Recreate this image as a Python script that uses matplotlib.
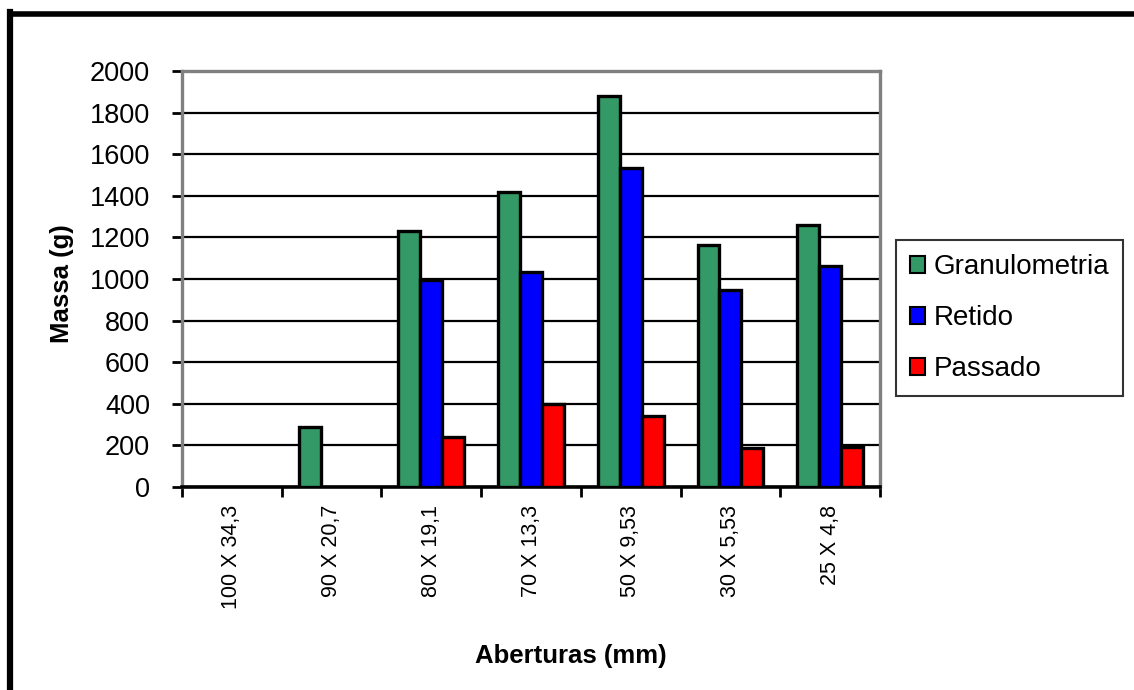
import matplotlib
matplotlib.use("Agg")
import matplotlib.pyplot as plt
import numpy as np
from matplotlib.lines import Line2D
from matplotlib.patches import Patch

plt.rcParams['font.family'] = ['Liberation Sans', 'DejaVu Sans']

categories = ["100 X 34,3", "90 X 20,7", "80 X 19,1", "70 X 13,3",
              "50 X 9,53", "30 X 5,53", "25 X 4,8"]
granulometria = [0, 287, 1229, 1417, 1881, 1163, 1260]
retido = [0, 0, 995, 1034, 1532, 946, 1062]
passado = [0, 0, 239, 398, 341, 186, 194]
series_names = ["Granulometria", "Retido", "Passado"]
series_colors = ["#339966", "#0000FF", "#FF0000"]
y_ticks = list(range(0, 2001, 200))

W, H = 1134, 690
fig = plt.figure(figsize=(W / 100, H / 100), dpi=100)
fig.patch.set_facecolor("white")

# plot area in pixel coordinates
px_l, px_r, px_t, px_b = 182, 880, 71, 487
ax = fig.add_axes([px_l / W, 1 - px_b / H, (px_r - px_l) / W, (px_b - px_t) / H])

x = np.arange(len(categories))
bw = 0.22
for i, (vals, col) in enumerate(zip([granulometria, retido, passado], series_colors)):
    heights = np.array(vals, dtype=float)
    mask = heights > 0
    ax.bar(x[mask] + (i - 1) * bw, heights[mask], width=bw, color=col,
           edgecolor="black", linewidth=2.4, zorder=3)

ax.set_xlim(-0.5, len(categories) - 0.5)
ax.set_ylim(0, 2000)
ax.set_yticks(y_ticks)
ax.set_yticklabels([str(v) for v in y_ticks], fontsize=19.5)
ax.yaxis.grid(True, color="black", linewidth=1.6, zorder=1)
ax.set_axisbelow(True)

ax.set_xticks(x)
ax.set_xticklabels(categories, rotation=90, fontsize=15.5, va="top")
ax.set_xticks(np.arange(-0.5, len(categories)), minor=True)
ax.tick_params(axis="x", which="major", length=0, pad=13)
ax.tick_params(axis="x", which="minor", length=7, width=2, color="black", direction="out")
ax.tick_params(axis="y", which="major", length=7, width=2, color="black", direction="out", pad=16)

for side in ["left", "top", "right"]:
    ax.spines[side].set_color("#808080")
    ax.spines[side].set_linewidth(2.4)
ax.spines["bottom"].set_color("black")
ax.spines["bottom"].set_linewidth(2.6)

# axis titles
fig.text(62 / W, 1 - 284 / H, "Massa (g)", rotation=90, ha="center", va="center",
         fontsize=18.5, fontweight="bold")
fig.text(571 / W, 1 - 656 / H, "Aberturas (mm)", ha="center", va="center",
         fontsize=18.5, fontweight="bold")

# legend
handles = [Patch(facecolor=c, edgecolor="black", linewidth=1.5) for c in series_colors]
leg = fig.legend(handles, series_names, loc="center left",
                 bbox_to_anchor=(896 / W, 1 - 318 / H), fontsize=20,
                 frameon=True, fancybox=False, handlelength=0.55, handleheight=0.55,
                 handletextpad=0.3, labelspacing=0.9, borderpad=0.5, borderaxespad=0)
leg.get_frame().set_edgecolor("black")
leg.get_frame().set_linewidth(1.5)

# chart frame (left and top edges)
fig.add_artist(Line2D([10 / W, 10 / W], [0, 1 - 12 / H], transform=fig.transFigure,
                      color="black", linewidth=4.5))
fig.add_artist(Line2D([10 / W, 1], [1 - 14 / H, 1 - 14 / H], transform=fig.transFigure,
                      color="black", linewidth=4))

fig.savefig("out.png", dpi=100)
